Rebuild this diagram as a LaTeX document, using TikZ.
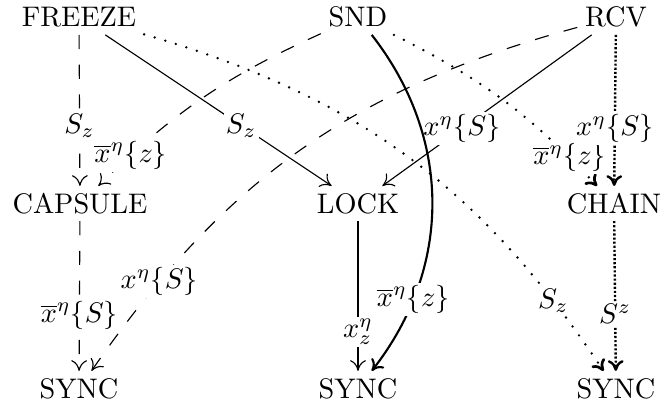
\documentclass[tikz,border=0pt]{standalone}
\usetikzlibrary{arrows.meta}
\begin{document}
\begin{tikzpicture}[x=0.3534pt,y=-0.3534pt,
  obj/.style={inner sep=2.6pt, text height=6.83pt, text depth=0pt},
  arr/.style={-{To[length=3.8pt,width=5.6pt]}, line width=0.4pt},
  dsh/.style={arr, dash pattern=on 5pt off 5.5pt},
  dotl/.style={arr, line cap=round, dash pattern=on 0pt off 3.9pt, line width=0.95pt},
  ddot/.style={arr, line width=0.85pt, dash pattern=on 0.75pt off 0.7pt},
  thk/.style={arr, line width=0.75pt},
  lab/.style={fill=white, inner sep=0.8pt}
]
\useasboundingbox (0,0) rectangle (661,403);
\node[obj] (fr) at (79,17.3) {FREEZE};
\node[obj] (snd) at (358,17.3) {SND};
\node[obj] (rcv) at (616,17.3) {RCV};
\node[obj] (cap) at (80,203.5) {CAPSULE};
\node[obj] (lock) at (358,203.5) {LOCK};
\node[obj] (chain) at (614,203.5) {CHAIN};
\node[obj] (s1) at (79,388.5) {SYNC};
\node[obj] (s2) at (358,388.5) {SYNC};
\node[obj] (s3) at (616,388.5) {SYNC};

\draw[dsh] (fr) -- node[lab,pos=0.6] {$S_z$} (cap);
\draw[arr] (fr) -- node[lab,pos=0.6] {$S_z$} (lock);
\draw[dotl] (fr) to[bend left=20] node[lab,pos=0.865] {$S_z$} (s3);
\draw[dsh] (snd) to[bend right=10] node[lab,pos=0.85] {$\overline{x}^\eta\{z\}$} (cap);
\draw[dotl] (snd) to[bend left=10] node[lab,pos=0.86] {$\overline{x}^\eta\{z\}$} (chain);
\draw[dsh] (rcv) to[bend right=20] node[lab,pos=0.83] {$x^\eta\{S\}$} (s1);
\draw[arr] (rcv) -- node[lab,pos=0.62] {$x^\eta\{S\}$} (lock);
\draw[ddot] (rcv) -- node[lab,pos=0.62] {$x^\eta\{S\}$} (chain);
\draw[dsh] (cap) -- node[lab,pos=0.63] {$\overline{x}^\eta\{S\}$} (s1);
\draw[arr] (lock) -- node[lab,pos=0.74] {$x^\eta_z$} (s2);
\draw[ddot] (chain) -- node[lab,pos=0.62] {$S^z$} (s3);
\draw[thk] (snd) to[bend left=38] node[lab,pos=0.78] {$\overline{x}^\eta\{z\}$} (s2);
\end{tikzpicture}
\end{document}
